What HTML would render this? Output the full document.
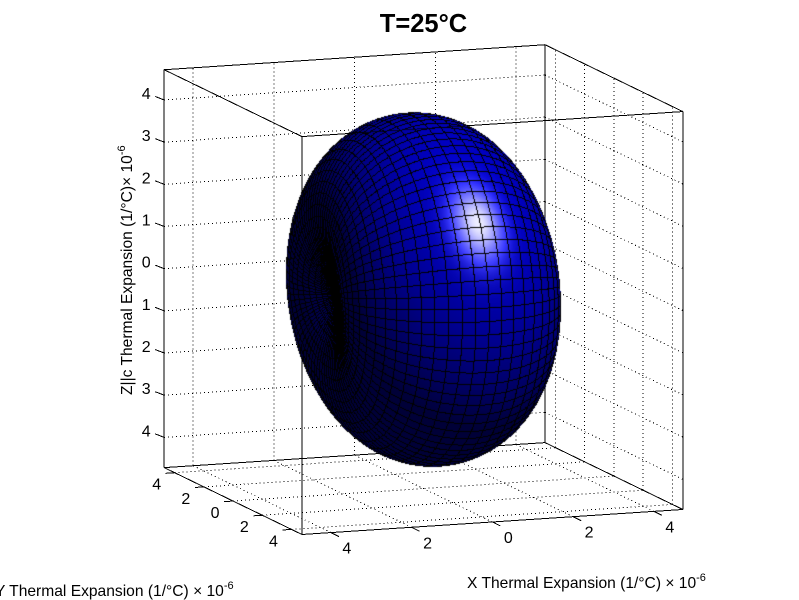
<!DOCTYPE html>
<html>
<head>
<meta charset="utf-8">
<title>T=25°C</title>
<style>
html,body{margin:0;padding:0;background:#fff;width:799px;height:600px;overflow:hidden}
#chart-root{position:relative;width:799px;height:600px;font-family:"Liberation Sans",Arial,sans-serif}
svg,canvas{position:absolute;left:0;top:0}
</style>
</head>
<body>
<div id="chart-root">
<svg id="axes" width="799" height="600" viewBox="0 0 799 600">
  <g id="grid"></g>
  <g id="box"></g>
  <g id="ticks"></g>
  <g id="labels"></g>
  <text x="423.5" y="32" text-anchor="middle" font-size="25.5" font-weight="bold" fill="#000">T=25°C</text>
  <text x="467" y="588" font-size="15.6" fill="#000">X Thermal Expansion (1/°C) × 10<tspan dy="-7" font-size="11">-6</tspan></text>
  <text x="-5" y="596" font-size="15.6" fill="#000">Y Thermal Expansion (1/°C) × 10<tspan dy="-7" font-size="11">-6</tspan></text>
  <text transform="translate(132,395) rotate(-90)" x="0" y="0" font-size="15.6" fill="#000">Z||c Thermal Expansion (1/°C)× 10<tspan dy="-7" font-size="11">-6</tspan></text>
</svg>
<canvas id="surface" width="799" height="600"></canvas>
</div>
<script>
// ---- chart data ----
const axisLimit = 4.717;
const xTickValues = [-4, -2, 0, 2, 4];
const xTickLabels = ['4', '2', '0', '2', '4'];
const yTickValues = [4, 2, 0, -2, -4];
const yTickLabels = ['4', '2', '0', '2', '4'];
const zTickValues = [4, 3, 2, 1, 0, -1, -2, -3, -4];
const zTickLabels = ['4', '3', '2', '1', '0', '1', '2', '3', '4'];
// thermal expansion tensor (units of 1e-6 / °C)
const tensorRowX = [2.1, 0.0, -0.13];
const tensorRowY = [0.0, 4.5, -0.05];
const tensorRowZ = [-0.13, -0.05, 4.15];

// ---- projection ----
const center = [423.5, 289.6];
const scale = 42.95;
const right = [0.94, -0.34, 0];
const up = [0.0617, 0.165, 0.982];
const view = [-0.334, -0.923, 0.176];
function dot(a, b) { return a[0]*b[0] + a[1]*b[1] + a[2]*b[2]; }
function project(p) {
  return [center[0] + scale*dot(p, right), center[1] - scale*dot(p, up), scale*dot(p, view)];
}
const SVGNS = 'http://www.w3.org/2000/svg';
function segment(parent, a, b, dash) {
  const el = document.createElementNS(SVGNS, 'line');
  el.setAttribute('x1', a[0]); el.setAttribute('y1', a[1]);
  el.setAttribute('x2', b[0]); el.setAttribute('y2', b[1]);
  el.setAttribute('stroke', '#000');
  el.setAttribute('stroke-width', '1');
  el.setAttribute('shape-rendering', 'crispEdges');
  if (dash) el.setAttribute('stroke-dasharray', '1 3');
  parent.appendChild(el);
  return el;
}
const L = axisLimit;
const gridG = document.getElementById('grid');
const boxG = document.getElementById('box');
const ticksG = document.getElementById('ticks');
const labelsG = document.getElementById('labels');

function gridLine(a, b) {
  const el = segment(gridG, project(a), project(b), true);
  
  
}
xTickValues.forEach(function (x) {
  gridLine([x, L, -L], [x, L, L]);
  gridLine([x, -L, -L], [x, L, -L]);
});
yTickValues.forEach(function (y) {
  gridLine([L, y, -L], [L, y, L]);
  gridLine([-L, y, -L], [L, y, -L]);
});
zTickValues.forEach(function (z) {
  gridLine([-L, L, z], [L, L, z]);
  gridLine([L, L, z], [L, -L, z]);
});

const boxCorners = {
  A: [-L, L, L], B: [L, L, L], C: [L, -L, L], D: [-L, -L, L],
  E: [-L, L, -L], F: [L, L, -L], G: [L, -L, -L], H: [-L, -L, -L]
};
['AB','BC','CD','DA','EF','FG','GH','HE','AE','BF','CG','DH'].forEach(function (pair) {
  const el = segment(boxG, project(boxCorners[pair[0]]), project(boxCorners[pair[1]]), false);
  
  
});

function tickMark(p, dx, dy) {
  const a = project(p);
  const el = segment(ticksG, a, [a[0] + dx, a[1] + dy], false);
  
  
  return a;
}
function tickLabel(x, y, str) {
  const t = document.createElementNS(SVGNS, 'text');
  t.setAttribute('x', x);
  t.setAttribute('y', y);
  t.setAttribute('text-anchor', 'middle');
  t.setAttribute('font-size', '16');
  t.setAttribute('fill', '#000');
  
  
  t.textContent = str;
  labelsG.appendChild(t);
}
xTickValues.forEach(function (x, i) {
  const a = tickMark([x, -L, -L], 8, 4);
  tickLabel(a[0] + 16, a[1] + 21, xTickLabels[i]);
});
yTickValues.forEach(function (y, i) {
  const a = tickMark([-L, y, -L], -9, 0.6);
  tickLabel(a[0] - 18, a[1] + 17, yTickLabels[i]);
});
zTickValues.forEach(function (z, i) {
  const a = tickMark([-L, L, z], -9, -3.5);
  tickLabel(a[0] - 18, a[1] - 1, zTickLabels[i]);
});

// ---- surface: r(n) = |T n| ----
const thetaCells = 44, phiCells = 88, sub = 3;
function surfacePoint(th, ph) {
  const n = [-Math.cos(th), Math.sin(th)*Math.cos(ph), Math.sin(th)*Math.sin(ph)];
  const r = Math.hypot(dot(tensorRowX, n), dot(tensorRowY, n), dot(tensorRowZ, n));
  return [r*n[0], r*n[1], r*n[2]];
}
const W = 799, H = 600;
const zbuf = new Float32Array(W*H).fill(-1e9);
const nbuf = new Float32Array(W*H*3);
const lineMask = new Uint8Array(W*H);
const nth = thetaCells*sub, nph = phiCells*sub;
const verts = [];
const eps = 1e-3;
for (let i = 0; i <= nth; i++) {
  const row = [];
  const th = Math.PI*i/nth;
  const thc = Math.min(Math.PI - 0.01, Math.max(0.01, th));
  for (let j = 0; j <= nph; j++) {
    const ph = 2*Math.PI*j/nph;
    const p = surfacePoint(th, ph);
    const a = surfacePoint(thc + eps, ph), b = surfacePoint(thc - eps, ph);
    const c = surfacePoint(thc, ph + eps), d = surfacePoint(thc, ph - eps);
    const u = [a[0]-b[0], a[1]-b[1], a[2]-b[2]], v = [c[0]-d[0], c[1]-d[1], c[2]-d[2]];
    const nr = [u[1]*v[2]-u[2]*v[1], u[2]*v[0]-u[0]*v[2], u[0]*v[1]-u[1]*v[0]];
    const nl = Math.hypot(nr[0], nr[1], nr[2]) || 1;
    const nn = [nr[0]/nl, nr[1]/nl, nr[2]/nl];
    let nv = [dot(nn, right), dot(nn, up), dot(nn, view)];
    if (nv[2] < 0) nv = [-nv[0], -nv[1], -nv[2]];
    const s = project(p);
    row.push({x: s[0], y: s[1], z: s[2], n: nv});
  }
  verts.push(row);
}
function tri(a, b, c) {
  const minX = Math.max(0, Math.floor(Math.min(a.x, b.x, c.x)));
  const maxX = Math.min(W-1, Math.ceil(Math.max(a.x, b.x, c.x)));
  const minY = Math.max(0, Math.floor(Math.min(a.y, b.y, c.y)));
  const maxY = Math.min(H-1, Math.ceil(Math.max(a.y, b.y, c.y)));
  const den = (b.y-c.y)*(a.x-c.x) + (c.x-b.x)*(a.y-c.y);
  if (Math.abs(den) < 1e-9) return;
  for (let y = minY; y <= maxY; y++) {
    for (let x = minX; x <= maxX; x++) {
      const px = x + 0.5, py = y + 0.5;
      const w0 = ((b.y-c.y)*(px-c.x) + (c.x-b.x)*(py-c.y))/den;
      const w1 = ((c.y-a.y)*(px-c.x) + (a.x-c.x)*(py-c.y))/den;
      const w2 = 1 - w0 - w1;
      if (w0 < -1e-4 || w1 < -1e-4 || w2 < -1e-4) continue;
      const z = w0*a.z + w1*b.z + w2*c.z;
      const k = y*W + x;
      if (z > zbuf[k]) {
        zbuf[k] = z;
        nbuf[k*3] = w0*a.n[0] + w1*b.n[0] + w2*c.n[0];
        nbuf[k*3+1] = w0*a.n[1] + w1*b.n[1] + w2*c.n[1];
        nbuf[k*3+2] = w0*a.n[2] + w1*b.n[2] + w2*c.n[2];
      }
    }
  }
}
for (let i = 0; i < nth; i++) {
  for (let j = 0; j < nph; j++) {
    const a = verts[i][j], b = verts[i+1][j], c = verts[i+1][j+1], d = verts[i][j+1];
    tri(a, b, c);
    tri(a, c, d);
  }
}
function drawLine(a, b) {
  const steps = Math.max(1, Math.ceil(Math.max(Math.abs(b.x-a.x), Math.abs(b.y-a.y))));
  for (let s = 0; s <= steps; s++) {
    const t = s/steps;
    const x = Math.floor(a.x + (b.x-a.x)*t), y = Math.floor(a.y + (b.y-a.y)*t);
    if (x < 0 || y < 0 || x >= W || y >= H) continue;
    const k = y*W + x;
    const z = a.z + (b.z-a.z)*t;
    if (z >= zbuf[k] - 2.5) lineMask[k] = 1;
  }
}
for (let i = 0; i <= nth; i += sub) {
  for (let j = 0; j < nph; j++) drawLine(verts[i][j], verts[i][j+1]);
}
for (let j = 0; j <= nph; j += sub) {
  for (let i = 0; i < nth; i++) drawLine(verts[i][j], verts[i+1][j]);
}
// shading
const lightDir = [0.33, 0.60, 0.73];
const halfDir = [0.29, 0.40, 0.869];
const ctx = document.getElementById('surface').getContext('2d');
const img = ctx.createImageData(W, H);
for (let k = 0; k < W*H; k++) {
  if (zbuf[k] < -1e8) continue;
  const nx = nbuf[k*3], ny = nbuf[k*3+1], nz = nbuf[k*3+2];
  const nl = Math.hypot(nx, ny, nz) || 1;
  const n = [nx/nl, ny/nl, nz/nl];
  const diff = Math.max(0, dot(n, lightDir));
  const spec = Math.pow(Math.max(0, dot(n, halfDir)), 40);
  let blue = 255*Math.min(1, 0.22 + 0.58*diff) + 255*spec;
  let rg = 255*0.95*spec;
  if (lineMask[k]) { blue = 0; rg = 0; }
  img.data[k*4] = rg;
  img.data[k*4+1] = rg;
  img.data[k*4+2] = Math.min(255, blue);
  img.data[k*4+3] = 255;
}
// front top box edge faintly visible through the surface
(function () {
  const a = project(boxCorners.D), b = project(boxCorners.C);
  const steps = Math.ceil(Math.abs(b[0]-a[0]));
  for (let s = 0; s <= steps; s++) {
    const t = s/steps;
    const x = Math.floor(a[0] + (b[0]-a[0])*t), y = Math.floor(a[1] + (b[1]-a[1])*t);
    const k = y*W + x;
    if (img.data[k*4+3]) img.data[k*4+2] *= 0.3;
  }
})();
ctx.putImageData(img, 0, 0);
</script>
</body>
</html>
